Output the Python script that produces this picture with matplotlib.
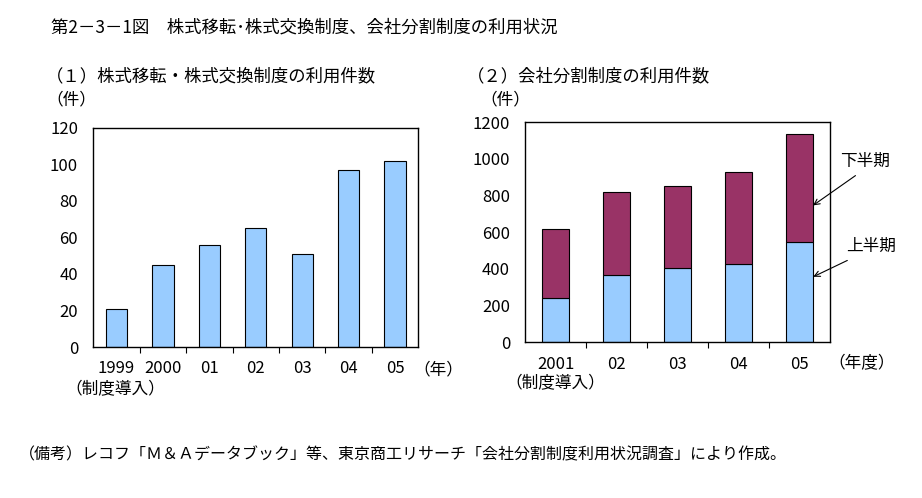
import matplotlib
matplotlib.use("Agg")
import matplotlib.pyplot as plt
import numpy as np

plt.rcParams['font.family'] = ['Noto Sans CJK JP', 'DejaVu Sans']

# (1) 株式移転・株式交換制度の利用件数
years1 = ["1999", "2000", "01", "02", "03", "04", "05"]
counts1 = [21, 45, 56, 65, 51, 97, 102]

# (2) 会社分割制度の利用件数
years2 = ["2001", "02", "03", "04", "05"]
first_half = [244, 369, 407, 429, 549]
second_half = [372, 449, 444, 498, 585]

blue = "#99CCFF"
maroon = "#993366"

W, H = 922, 498
fig = plt.figure(figsize=(W / 100, H / 100), dpi=100)


def px(x, y):
    return x / W, 1 - y / H


def style_axes(ax, n):
    ax.set_xlim(-0.5, n - 0.5)
    ax.set_xticks([])
    ax.set_xticks(np.arange(n - 1) + 0.5, minor=True)
    ax.tick_params(axis="x", which="minor", length=4, direction="out", width=0.8)
    ax.tick_params(axis="y", length=0, labelsize=12, pad=11)
    for s in ax.spines.values():
        s.set_linewidth(1)
        s.set_color("black")


# chart 1
ax1 = fig.add_axes([93.3 / W, (H - 347) / H, 325 / W, 219.3 / H])
x1 = np.arange(len(years1))
ax1.bar(x1, counts1, width=0.46, color=blue, edgecolor="black", linewidth=0.8)
ax1.set_ylim(0, 120)
ax1.set_yticks(np.arange(0, 121, 20))
style_axes(ax1, len(years1))
for i, lab in enumerate(years1):
    ax1.text(i, -0.1, lab, transform=ax1.get_xaxis_transform(), ha="center", va="center", fontsize=12)

# chart 2
ax2 = fig.add_axes([525.3 / W, (H - 342.3) / H, 305 / W, 220 / H])
x2 = np.arange(len(years2))
ax2.bar(x2, first_half, width=0.44, color=blue, edgecolor="black", linewidth=0.8)
ax2.bar(x2, second_half, width=0.44, bottom=first_half, color=maroon, edgecolor="black", linewidth=0.8)
ax2.set_ylim(0, 1200)
ax2.set_yticks(np.arange(0, 1201, 200))
style_axes(ax2, len(years2))
for i, lab in enumerate(years2):
    ax2.text(i, -0.1, lab, transform=ax2.get_xaxis_transform(), ha="center", va="center", fontsize=12)

# arrows and labels for halves
ax2.annotate("", xy=(4.18, 738), xytext=(4.95, 918), annotation_clip=False,
             arrowprops=dict(arrowstyle="->", color="black", lw=0.8))
ax2.annotate("", xy=(4.18, 351), xytext=(4.82, 453), annotation_clip=False,
             arrowprops=dict(arrowstyle="->", color="black", lw=0.8))
ax2.text(5.07, 985, "下半期", ha="center", va="center", fontsize=12, clip_on=False)
ax2.text(5.17, 522, "上半期", ha="center", va="center", fontsize=12, clip_on=False)

# texts
fig.text(*px(51, 28), "第2－3－1図　株式移転･株式交換制度、会社分割制度の利用状況", fontsize=12.5, va="center", ha="left")
fig.text(*px(46, 76), "（１）株式移転・株式交換制度の利用件数", fontsize=12.5, va="center", ha="left")
fig.text(*px(46, 100), "（件）", fontsize=12, va="center", ha="left")
fig.text(*px(467, 76), "（２）会社分割制度の利用件数", fontsize=12.5, va="center", ha="left")
fig.text(*px(480, 100), "（件）", fontsize=12, va="center", ha="left")
fig.text(*px(413, 370), "（年）", fontsize=12, va="center", ha="left")
fig.text(*px(65, 390), "（制度導入）", fontsize=12, va="center", ha="left")
fig.text(*px(828, 364), "（年度）", fontsize=12, va="center", ha="left")
fig.text(*px(505, 384), "（制度導入）", fontsize=12, va="center", ha="left")
fig.text(*px(19, 455), "（備考）レコフ「Ｍ＆Ａデータブック」等、東京商工リサーチ「会社分割制度利用状況調査」により作成。",
         fontsize=11.5, va="center", ha="left")

fig.savefig("out.png", dpi=100)
